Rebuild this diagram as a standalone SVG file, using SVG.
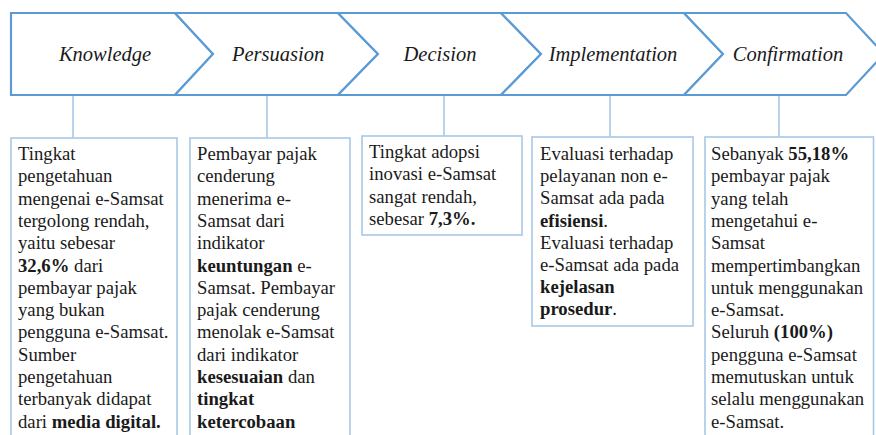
<svg xmlns="http://www.w3.org/2000/svg" width="876" height="435" viewBox="0 0 876 435">
<style>
.chev{fill:#ffffff;stroke:#5B9BD5;stroke-width:2.2;stroke-linejoin:miter}
.hd{font-style:italic;font-size:20.5px;fill:#1a1a1a;text-anchor:middle}
.box{fill:#ffffff;stroke:#A9C8E8;stroke-width:1.6}
.conn{stroke:#A9C8E8;stroke-width:1.6;fill:none}
.tx{font-size:18.7px;fill:#1a1a1a}
.b{font-weight:bold}
</style>
<rect width="876" height="435" fill="#ffffff"/>
<g id="connectors">
<line class="conn" x1="73" y1="95" x2="73" y2="138"/>
<line class="conn" x1="267" y1="95" x2="267" y2="138"/>
<line class="conn" x1="444" y1="95" x2="444" y2="136"/>
<line class="conn" x1="610" y1="95" x2="610" y2="137"/>
<line class="conn" x1="779" y1="95" x2="779" y2="137"/>
</g>
<g font-family="'Liberation Serif', 'Times New Roman', 'DejaVu Serif', serif">
<g id="stage-knowledge">
<polygon class="chev" points="11,13 175,13 213,54 175,95 11,95"/>
<text class="hd" x="105" y="61">Knowledge</text>
</g>
<g id="stage-persuasion">
<polygon class="chev" points="175,13 338,13 378,54 338,95 175,95 213,54"/>
<text class="hd" x="278" y="61">Persuasion</text>
</g>
<g id="stage-decision">
<polygon class="chev" points="338,13 501,13 541,54 501,95 338,95 378,54"/>
<text class="hd" x="440" y="61">Decision</text>
</g>
<g id="stage-implementation">
<polygon class="chev" points="501,13 684,13 723,54 684,95 501,95 541,54"/>
<text class="hd" x="613" y="61">Implementation</text>
</g>
<g id="stage-confirmation">
<polygon class="chev" points="684,13 846,13 884,54 846,95 684,95 723,54"/>
<text class="hd" x="788" y="61">Confirmation</text>
</g>
<g id="box-knowledge">
<rect class="box" x="11" y="138" width="166" height="320"/>
<text class="tx">
<tspan x="18" y="160">Tingkat</tspan>
<tspan x="18" y="182.3">pengetahuan</tspan>
<tspan x="18" y="204.6">mengenai e-Samsat</tspan>
<tspan x="18" y="226.9">tergolong rendah,</tspan>
<tspan x="18" y="249.2">yaitu sebesar</tspan>
<tspan x="18" y="271.5"><tspan class="b">32,6%</tspan> dari</tspan>
<tspan x="18" y="293.8">pembayar pajak</tspan>
<tspan x="18" y="316.1">yang bukan</tspan>
<tspan x="18" y="338.4">pengguna e-Samsat.</tspan>
<tspan x="18" y="360.7">Sumber</tspan>
<tspan x="18" y="383">pengetahuan</tspan>
<tspan x="18" y="405.3">terbanyak didapat</tspan>
<tspan x="18" y="427.6">dari <tspan class="b">media digital.</tspan></tspan>
</text>
</g>
<g id="box-persuasion">
<rect class="box" x="190" y="138" width="160" height="320"/>
<text class="tx">
<tspan x="197" y="160">Pembayar pajak</tspan>
<tspan x="197" y="182.3">cenderung</tspan>
<tspan x="197" y="204.6">menerima e-</tspan>
<tspan x="197" y="226.9">Samsat dari</tspan>
<tspan x="197" y="249.2">indikator</tspan>
<tspan x="197" y="271.5"><tspan class="b">keuntungan</tspan> e-</tspan>
<tspan x="197" y="293.8">Samsat. Pembayar</tspan>
<tspan x="197" y="316.1">pajak cenderung</tspan>
<tspan x="197" y="338.4">menolak e-Samsat</tspan>
<tspan x="197" y="360.7">dari indikator</tspan>
<tspan x="197" y="383"><tspan class="b">kesesuaian</tspan> dan</tspan>
<tspan x="197" y="405.3" class="b">tingkat</tspan>
<tspan x="197" y="427.6" class="b">ketercobaan</tspan>
</text>
</g>
<g id="box-decision">
<rect class="box" x="362" y="136" width="160" height="99"/>
<text class="tx">
<tspan x="369" y="158">Tingkat adopsi</tspan>
<tspan x="369" y="180.3">inovasi e-Samsat</tspan>
<tspan x="369" y="202.6">sangat rendah,</tspan>
<tspan x="369" y="224.9">sebesar <tspan class="b">7,3%.</tspan></tspan>
</text>
</g>
<g id="box-implementation">
<rect class="box" x="532" y="137" width="161" height="189"/>
<text class="tx">
<tspan x="540" y="160">Evaluasi terhadap</tspan>
<tspan x="540" y="182.2">pelayanan non e-</tspan>
<tspan x="540" y="204.4">Samsat ada pada</tspan>
<tspan x="540" y="226.6"><tspan class="b">efisiensi</tspan>.</tspan>
<tspan x="540" y="248.8">Evaluasi terhadap</tspan>
<tspan x="540" y="271">e-Samsat ada pada</tspan>
<tspan x="540" y="293.2" class="b">kejelasan</tspan>
<tspan x="540" y="315.4"><tspan class="b">prosedur</tspan>.</tspan>
</text>
</g>
<g id="box-confirmation">
<rect class="box" x="705" y="137" width="168.5" height="320"/>
<text class="tx">
<tspan x="711" y="160">Sebanyak <tspan class="b">55,18%</tspan></tspan>
<tspan x="711" y="182.3">pembayar pajak</tspan>
<tspan x="711" y="204.6">yang telah</tspan>
<tspan x="711" y="226.9">mengetahui e-</tspan>
<tspan x="711" y="249.2">Samsat</tspan>
<tspan x="711" y="271.5">mempertimbangkan</tspan>
<tspan x="711" y="293.8">untuk menggunakan</tspan>
<tspan x="711" y="316.1">e-Samsat.</tspan>
<tspan x="711" y="338.4">Seluruh <tspan class="b">(100%)</tspan></tspan>
<tspan x="711" y="360.7">pengguna e-Samsat</tspan>
<tspan x="711" y="383">memutuskan untuk</tspan>
<tspan x="711" y="405.3">selalu menggunakan</tspan>
<tspan x="711" y="427.6">e-Samsat.</tspan>
</text>
</g>
</g>
</svg>
